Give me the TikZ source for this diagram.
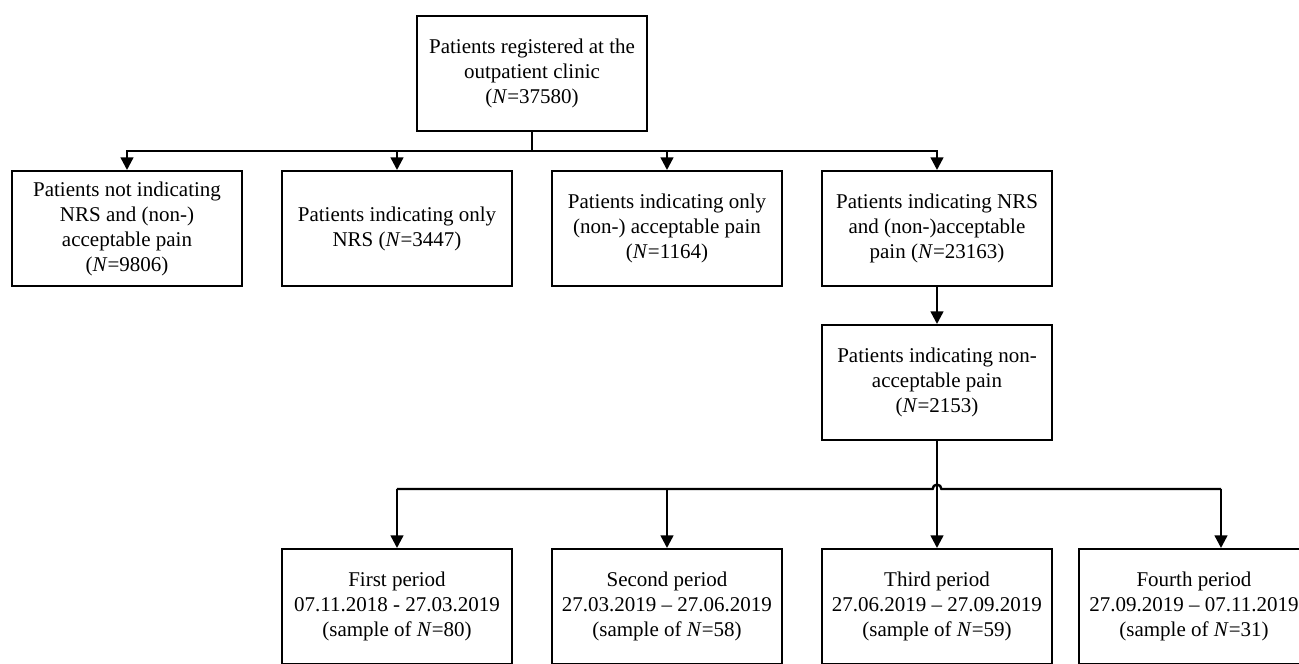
\documentclass[tikz,border=0pt]{standalone}
\usepackage{fontspec}
\setmainfont{Liberation Serif}
\usepackage{tikz}
\usetikzlibrary{matrix,shapes,arrows.meta,positioning,calc}

\begin{document}
\begin{tikzpicture}
      \tikzstyle{point} = [coordinate]
      \tikzstyle{box} = [rectangle, draw, line width=1.2pt, minimum width=114.8pt, minimum height=57.3pt,
        align=center, inner sep=2pt, font=\fontsize{10.5}{12.5}\selectfont]
      \tikzstyle{line} = [line width=1.2pt]
      \tikzstyle{arr} = [line width=1.2pt, -{Triangle[length=6.3pt,width=6.3pt]}]
      \matrix[row sep = 18.5pt, column sep = 19pt]{
        % first row
        \node (none) [box] {Patients not indicating\\NRS and (non-)\\acceptable pain\\(\textit{N}=9806)};&
        \node (nrs) [box] {Patients indicating only\\NRS (\textit{N}=3447)};&
        \node (acc) [box] {Patients indicating only\\(non-) acceptable pain\\(\textit{N}=1164)};&
        \node (both) [box] {Patients indicating NRS\\and (non-)acceptable\\pain (\textit{N}=23163)};\\
        % second row
        &
        &
        &
        \node (nonacc) [box] {Patients indicating non-\\acceptable pain\\(\textit{N}=2153)};\\[35pt]
        % third row
        &
        \node (per1) [box] {First period\\07.11.2018 - 27.03.2019\\(sample of \textit{N}=80)};&
        \node (per2) [box] {Second period\\27.03.2019 – 27.06.2019\\(sample of \textit{N}=58)};&
        \node (per3) [box] {Third period\\27.06.2019 – 27.09.2019\\(sample of \textit{N}=59)};\\
      };
      \node (reg) [box, above=19pt] at ($(nrs.north)!0.5!(acc.north)$) {Patients registered at the\\outpatient clinic\\(\textit{N}=37580)};
      \node (per4) [box, right=12.5pt of per3] {Fourth period\\27.09.2019 – 07.11.2019\\(sample of \textit{N}=31)};
      \coordinate (p1) at ($(reg.south)+(0,-9.5pt)$);
      \coordinate (p2) at ($(nonacc.south)+(0,-24pt)$);
      \coordinate (p3) at ($(per4.north |- p2)+(13.5pt,0)$);
      \draw [line] (reg)--(p1);
      \draw [arr] (p1)-|(none);
      \draw [arr] (p1)-|(nrs);
      \draw [arr] (p1)-|(acc);
      \draw [arr] (p1)-|(both);
      \draw [arr] (both)--(nonacc);
      \draw [arr] (nonacc)--(per3);
      \draw [line] (per1 |- p2)--($(p2)+(-2.2pt,0)$) arc[start angle=180, end angle=0, radius=2.2pt]--(p3);
      \draw [arr] (per1 |- p2)--(per1);
      \draw [arr] (per2 |- p2)--(per2);
      \draw [arr] (p3)--(p3 |- per4.north);
      \pgfresetboundingbox
      \useasboundingbox ($(none.west |- reg.north)+(-5.5pt,7.5pt)$) rectangle ++(649.5pt,-331.5pt);
    \end{tikzpicture}
\end{document}
